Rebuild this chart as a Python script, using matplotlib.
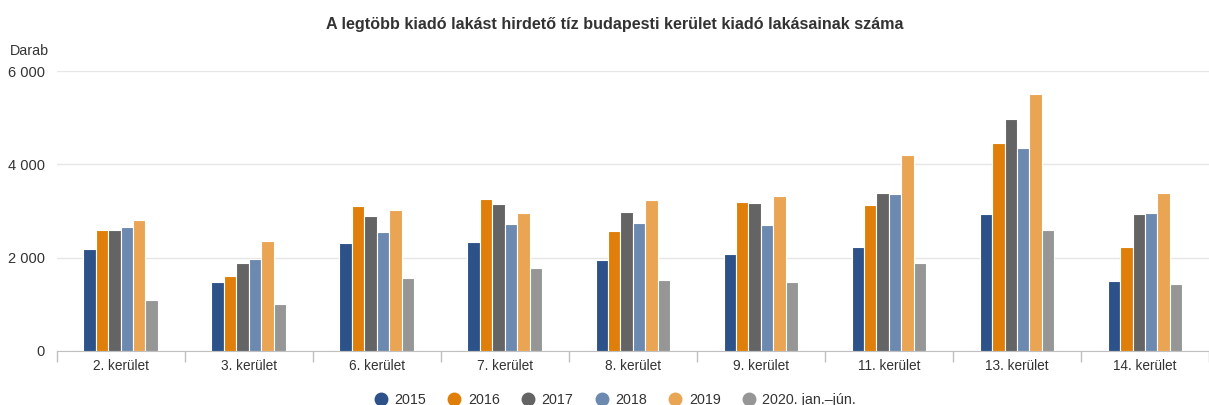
import matplotlib.pyplot as plt
from matplotlib.lines import Line2D
import numpy as np

plt.rcParams['font.family'] = ['Liberation Sans', 'DejaVu Sans']

kerulet = ['2. kerület', '3. kerület', '6. kerület', '7. kerület', '8. kerület',
           '9. kerület', '11. kerület', '13. kerület', '14. kerület']
evek = ['2015', '2016', '2017', '2018', '2019', '2020. jan.–jún.']

v2015 = [2190, 1470, 2310, 2340, 1950, 2070, 2230, 2940, 1490]
v2016 = [2600, 1600, 3100, 3260, 2570, 3200, 3130, 4460, 2230]
v2017 = [2600, 1880, 2900, 3160, 2970, 3180, 3390, 4970, 2940]
v2018 = [2650, 1980, 2540, 2720, 2750, 2700, 3370, 4360, 2960]
v2019 = [2800, 2360, 3030, 2950, 3230, 3330, 4190, 5510, 3390]
v2020 = [1100, 1000, 1570, 1770, 1530, 1480, 1880, 2590, 1430]

adatok = [v2015, v2016, v2017, v2018, v2019, v2020]
szinek = ['#2c5289', '#df7f0a', '#646464', '#6c8ab0', '#e9a553', '#969696']

fig = plt.figure(figsize=(12.09, 4.05), dpi=100)
ax = fig.add_axes([56.6 / 1209, 54 / 405, (1209 - 56.6) / 1209, 280 / 405])

x = np.arange(len(kerulet))
w = 0.097
for i, (ertek, szin) in enumerate(zip(adatok, szinek)):
    ax.bar(x + (i - 2.5) * w, ertek, width=w, color=szin,
           edgecolor='white', linewidth=0.8, zorder=3)

ax.set_ylim(0, 6000)
ax.set_xlim(-0.5, 8.5 - 10 / 129.2)
ax.set_yticks([0, 2000, 4000, 6000])
ax.set_yticklabels(['0', '2 000', '4 000', '6 000'], fontsize=10.5, color='#333333')
ax.yaxis.grid(True, color='#e6e6e6', linewidth=1, zorder=0)
ax.tick_params(axis='y', length=0, pad=8.5)

ax.set_xticks(x)
ax.set_xticklabels(kerulet, fontsize=9.8, color='#333333')
ax.tick_params(axis='x', length=0, pad=6)
ax.set_xticks(np.arange(-0.5, 9.5, 1), minor=True)
ax.tick_params(axis='x', which='minor', length=8, color='#c0c0c0', width=1)

for s in ['top', 'right', 'left']:
    ax.spines[s].set_visible(False)
ax.spines['bottom'].set_color('#c0c0c0')

fig.text(10 / 1209, 1 - 51 / 405, 'Darab', fontsize=10.3, color='#333333', va='center')
fig.text(615 / 1209, 1 - 25 / 405, 'A legtöbb kiadó lakást hirdető tíz budapesti kerület kiadó lakásainak száma',
         fontsize=11.6, fontweight='bold', ha='center', va='center', color='#333333')

jelek = [Line2D([0], [0], marker='o', linestyle='', markersize=9,
                markerfacecolor=c, markeredgecolor=c) for c in szinek]
fig.legend(jelek, evek, loc='center', bbox_to_anchor=(615 / 1209, 1 - 400 / 405),
           ncol=6, frameon=False, fontsize=10.3, handlelength=1.0, handletextpad=0.45,
           columnspacing=1.47, labelcolor='#333333')

fig.savefig('out.png', dpi=100)
